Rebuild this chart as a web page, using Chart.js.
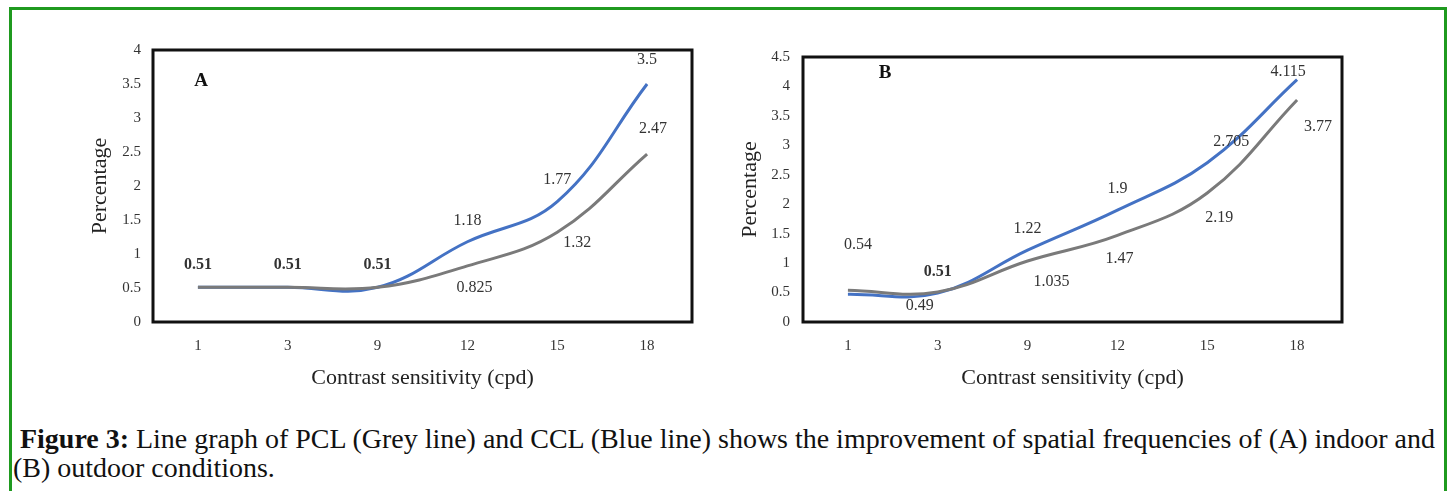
<!DOCTYPE html>
<html><head><meta charset="utf-8">
<script src="https://cdn.jsdelivr.net/npm/chart.js@4.4.1/dist/chart.umd.min.js"></script>
<style>
html,body{margin:0;padding:0;background:#fff;width:1453px;height:491px;overflow:hidden;}
#frame{position:absolute;left:9px;top:7px;width:1438px;height:600px;border:3px solid #1f9a1f;box-sizing:border-box;}
#cA{position:absolute;left:0;top:0;}
#cB{position:absolute;left:730px;top:0;}
#cap{position:absolute;left:13px;top:424px;font-family:'Liberation Serif',serif;font-size:24px;line-height:29px;color:#111;white-space:nowrap;}
</style></head><body>
<div id="frame"></div>
<canvas id="cA" width="730" height="400"></canvas>
<canvas id="cB" width="723" height="400"></canvas>
<div id="cap"><span id="l1">&nbsp;<b>Figure 3:</b> Line graph of PCL (Grey line) and CCL (Blue line) shows the improvement of spatial frequencies of (A) indoor and</span><br><span>(B) outdoor conditions.</span></div>
<script>
// ---- data ----
const categories = ['1', '3', '9', '12', '15', '18'];
const cclIndoor  = [0.51, 0.51, 0.51, 1.18, 1.77, 3.5];
const pclIndoor  = [0.51, 0.51, 0.51, 0.825, 1.32, 2.47];
const cclOutdoor = [0.47, 0.49, 1.22, 1.9, 2.705, 4.115];
const pclOutdoor = [0.54, 0.51, 1.035, 1.47, 2.19, 3.77];
const yMaxA = 4, yMaxB = 4.5, yStep = 0.5;
const xTitle = 'Contrast sensitivity (cpd)';
const yTitle = 'Percentage';

// fit caption line 1 width
const cap = document.getElementById('cap');
const l1 = document.getElementById('l1');
const w0 = l1.getBoundingClientRect().width;
cap.style.fontSize = (24 * 1422 / w0) + 'px';

const SERIF = '"Liberation Serif", "Times New Roman", serif';
const BLUE = '#4472C4', GREY = '#7a7a7a';

function makeDecor(letter, lx, ly, labelCfg) {
  return {
    id: 'decor' + letter,
    afterDatasetsDraw(chart) {
      const ctx = chart.ctx, a = chart.chartArea;
      ctx.save();
      labelCfg.forEach((cfg, di) => {
        const meta = chart.getDatasetMeta(di);
        const data = chart.data.datasets[di].data;
        cfg.off.forEach((o, i) => {
          if (!o) return;
          const p = meta.data[i];
          ctx.font = (cfg.bold && cfg.bold[i] ? 'bold ' : '') + '16px ' + SERIF;
          ctx.fillStyle = '#333';
          ctx.textAlign = 'center';
          ctx.textBaseline = 'middle';
          ctx.fillText(String(data[i]), p.x + o[0], p.y + o[1]);
        });
      });
      ctx.font = 'bold 19px ' + SERIF;
      ctx.fillStyle = '#111';
      ctx.textAlign = 'center';
      ctx.textBaseline = 'middle';
      ctx.fillText(letter, a.left + lx, a.top + ly);
      ctx.strokeStyle = '#111';
      ctx.lineWidth = 3;
      ctx.strokeRect(a.left, a.top, a.right - a.left, a.bottom - a.top);
      ctx.restore();
    }
  };
}

function makeChart(id, pcl, ccl, yMax, pad, yw, labelCfg, letter, lx, ly, tickPad) {
  return new Chart(document.getElementById(id), {
    type: 'line',
    data: {
      labels: categories,
      datasets: [
        { label: 'PCL', data: pcl, borderColor: GREY, borderWidth: 3, pointRadius: 0, tension: 0.4, fill: false },
        { label: 'CCL', data: ccl, borderColor: BLUE, borderWidth: 3, pointRadius: 0, tension: 0.4, fill: false }
      ]
    },
    options: {
      responsive: false, animation: false,
      layout: { padding: pad },
      plugins: { legend: { display: false }, tooltip: { enabled: false } },
      scales: {
        x: {
          offset: true,
          grid: { display: false, drawTicks: false },
          border: { display: false },
          ticks: { padding: 15, color: '#333', font: { family: SERIF, size: 15 } },
          title: { display: true, text: xTitle, color: '#222', padding: 0, font: { family: SERIF, size: 22 } },
          afterFit(s) { s.height = 69.2; }
        },
        y: {
          min: 0, max: yMax,
          grid: { display: false, drawTicks: false },
          border: { display: false },
          ticks: { stepSize: yStep, padding: tickPad, color: '#333', font: { family: SERIF, size: 15 },
                   callback: (v) => String(v) },
          title: { display: true, text: yTitle, color: '#222', padding: 0, font: { family: SERIF, size: 22 } },
          afterFit(s) { s.width = yw; }
        }
      }
    },
    plugins: [makeDecor(letter, lx, ly, labelCfg)]
  });
}

makeChart('cA', pclIndoor, cclIndoor, yMaxA,
  { left: 86.8, right: 38, top: 50, bottom: 8.8 }, 66.2,
  [
    { off: [null, null, null, [7, 22], [20, 11], [6, -25]] },
    { off: [[0, -22], [0, -22], [0, -22], [0, -21], [0, -22], [0, -24]], bold: [true, true, true] }
  ], 'A', 48, 31, 12);

makeChart('cB', pclOutdoor, cclOutdoor, yMaxB,
  { left: 6.8, right: 111, top: 57, bottom: 8.8 }, 66.2,
  [
    { off: [[10, -45], [0, -20], [24, 21], [2, 23], [12, 25], [21, 27]], bold: [false, true] },
    { off: [null, [-18, 13], [0, -21], [0, -21], [24, -21], [-9, -8]] }
  ], 'B', 82, 16, 13);
</script>
</body></html>
